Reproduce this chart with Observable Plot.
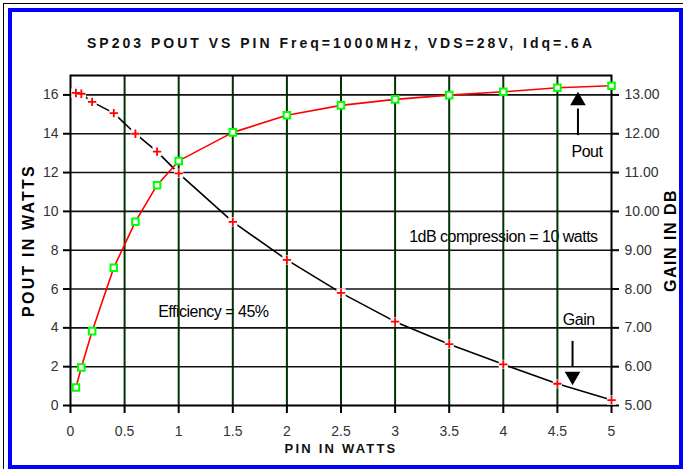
<!DOCTYPE html>
<html><head><meta charset="utf-8">
<script src="https://cdn.jsdelivr.net/npm/d3@7"></script>
<script src="https://cdn.jsdelivr.net/npm/@observablehq/plot@0.6"></script>
<style>
body{margin:0;background:white;}
#wrap{position:relative;width:683px;height:469px;overflow:hidden;}
#blue{position:absolute;left:8px;top:8px;width:675px;height:461px;border:4px solid #0000ff;box-sizing:border-box;pointer-events:none;}
#black{position:absolute;left:3px;top:3px;width:700px;height:500px;border-left:1px solid #000;border-top:1px solid #000;pointer-events:none;}
</style></head><body><div id="wrap"><div id="black"></div><div id="blue"></div></div>
<script>
// Data
const pin  = [0.05, 0.1, 0.2, 0.4, 0.6, 0.8, 1.0, 1.5, 2.0, 2.5, 3.0, 3.5, 4.0, 4.5, 5.0];
const pout = [0.93, 1.96, 3.83, 7.1, 9.47, 11.35, 12.6, 14.07, 14.95, 15.46, 15.77, 15.99, 16.16, 16.37, 16.47];
const gain = [13.05, 13.03, 12.82, 12.53, 12.0, 11.54, 10.98, 9.73, 8.75, 7.9, 7.16, 6.58, 6.06, 5.56, 5.14];

const pinTicks  = [0, 0.5, 1, 1.5, 2, 2.5, 3, 3.5, 4, 4.5, 5];
const poutTicks = [0, 2, 4, 6, 8, 10, 12, 14, 16];
const gainTicks = [5, 6, 7, 8, 9, 10, 11, 12, 13];

const titleText = "SP203 POUT VS PIN Freq=1000MHz, VDS=28V, Idq=.6A";
const xLabel = "PIN IN WATTS";
const yLabel = "POUT IN WATTS";
const y2Label = "GAIN IN DB";

const notes = [
  {label: "Efficiency = 45%", x: 0.81, y: 4.81},
  {label: "1dB compression = 10 watts", x: 3.13, y: 8.68},
  {label: "Pout", x: 4.63, y: 13.06},
  {label: "Gain", x: 4.55, y: 4.40}
];
const shafts = [
  {x: 4.69, y1: 13.93, y2: 15.3},
  {x: 4.64, y1: 3.33, y2: 2.0}
];
const heads = [
  {x: 4.69, y: 15.70, rot: 0},
  {x: 4.64, y: 1.51, rot: 180}
];

// gain (dB) axis 5..13.5 maps onto the Pout axis 0..17
const gainToY = g => (g - 5) * 2;
const yToGain = y => y / 2 + 5;

const rows = pin.map((p, i) => ({pin: p, pout: pout[i], gain: gain[i], gy: gainToY(gain[i])}));

const chart = Plot.plot({
  width: 683,
  height: 469,
  marginLeft: 70,
  marginRight: 72,
  marginTop: 75,
  marginBottom: 64,
  style: {fontFamily: "'Liberation Sans', Arial, sans-serif", fontSize: "14px", background: "white", overflow: "visible"},
  x: {domain: [0, 5]},
  y: {domain: [0, 17]},
  marks: [
    Plot.text(notes, {x: "x", y: "y", text: "label", textAnchor: "start", fontSize: 16, fill: "black"}),
    Plot.gridX(pinTicks.filter(d => d > 0 && d < 5), {stroke: "#003300", strokeOpacity: 1, strokeWidth: 2}),
    Plot.gridY(poutTicks.filter(d => d > 0), {stroke: "#111", strokeOpacity: 1, strokeWidth: 1.6}),
    Plot.frame({stroke: "black", strokeWidth: 2}),
    Plot.axisX(pinTicks, {tickSize: 8, tickPadding: 13, fontSize: 14, stroke: "black", color: "#333", strokeWidth: 2, tickFormat: d => String(d), label: null}),
    Plot.axisY(poutTicks, {anchor: "left", tickSize: 7, tickPadding: 5, fontSize: 14, stroke: "black", color: "#333", strokeWidth: 2, tickFormat: d => String(d), label: null}),
    Plot.axisY(gainTicks.map(gainToY), {anchor: "right", tickSize: 7, tickPadding: 6, fontSize: 14, stroke: "black", color: "#333", strokeWidth: 2, tickFormat: d => yToGain(d).toFixed(2), label: null}),
    Plot.text([titleText], {frameAnchor: "top", dy: -37, text: d => d, fontWeight: "bold", fontSize: 14, fill: "#111"}),
    Plot.text([xLabel], {frameAnchor: "bottom", dy: 47, text: d => d, fontWeight: "bold", fontSize: 13, fill: "#111"}),
    Plot.text([yLabel], {frameAnchor: "left", dx: -42, rotate: -90, textAnchor: "middle", text: d => d, fontWeight: "bold", fontSize: 16, fill: "black"}),
    Plot.text([y2Label], {frameAnchor: "right", dx: 59, rotate: -90, textAnchor: "middle", text: d => d, fontWeight: "bold", fontSize: 16, fill: "black"}),
    Plot.line(rows, {x: "pin", y: "gy", stroke: "black", strokeWidth: 1.6}),
    Plot.line(rows, {x: "pin", y: "pout", stroke: "#ff0000", strokeWidth: 1.6}),
    Plot.dot(rows, {x: "pin", y: "gy", symbol: "square", r: 5.2, fill: "white", stroke: "none"}),
    Plot.dot(rows, {x: "pin", y: "gy", symbol: "plus", r: 2.8, stroke: "#ff0000", strokeWidth: 1.8}),
    Plot.dot(rows, {x: "pin", y: "pout", symbol: "square", r: 3.7, fill: "white", stroke: "#00ff00", strokeWidth: 2}),
    Plot.link(shafts, {x1: "x", x2: "x", y1: "y1", y2: "y2", stroke: "black", strokeWidth: 2}),
    Plot.dot(heads, {x: "x", y: "y", symbol: "triangle", r: 5.8, fill: "black", stroke: "none", rotate: "rot"})
  ]
});

const spacing = new Map([
  [titleText, "3px"], [xLabel, "2.2px"], [yLabel, "2.2px"], [y2Label, "1.5px"]
]);
notes.forEach(n => spacing.set(n.label, "-0.5px"));
d3.select(chart).selectAll("text").each(function() {
  const sp = spacing.get(this.textContent);
  if (sp) this.style.letterSpacing = sp;
});

document.getElementById("wrap").prepend(chart);
</script>
</body></html>
